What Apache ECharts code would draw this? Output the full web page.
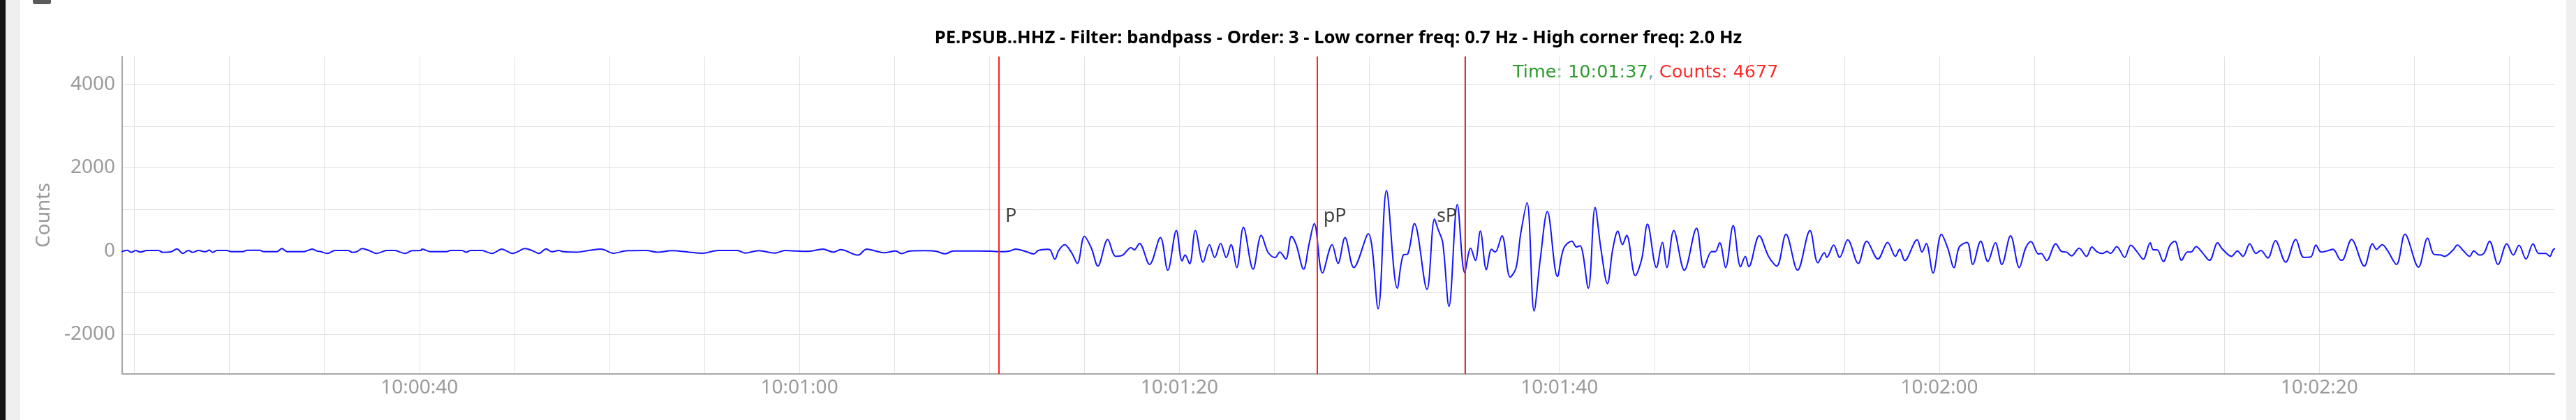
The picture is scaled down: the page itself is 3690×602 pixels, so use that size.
<!DOCTYPE html>
<html>
<head>
<meta charset="utf-8">
<script src="https://cdn.jsdelivr.net/npm/echarts@6/dist/echarts.min.js"></script>
<style>
html,body{margin:0;padding:0;background:#fff;}
#chart{width:3690px;height:602px;}
</style>
</head>
<body>
<div id="chart"></div>
<script>
// ---- Data (seconds after 10:00:00, counts) ----
const titleText = 'PE.PSUB..HHZ - Filter: bandpass - Order: 3 - Low corner freq: 0.7 Hz - High corner freq: 2.0 Hz';
const readoutTime = 'Time: 10:01:37';
const readoutCounts = 'Counts: 4677';
const axisMinSec = 24.354;
const axisMaxSec = 152.372;
const yMin = -2960;
const yMax = 4677;

const sampleSeconds = [
24.32,24.62,24.84,25.07,25.29,25.67,26.27,26.49,26.94,27.24,27.54,27.84,28.07,28.37,28.74,28.94,29.12,29.34,29.87,30.09,
30.69,30.92,31.59,31.82,32.49,32.76,33.05,33.92,34.14,34.37,34.59,34.82,35.15,35.57,36.24,36.47,36.69,36.99,37.37,37.74,
38.04,38.27,38.72,38.94,39.24,39.62,40.07,40.14,40.59,41.42,41.64,42.24,42.47,42.69,43.29,43.52,43.82,44.04,44.34,44.57,
44.91,45.17,45.54,45.77,46.07,46.29,46.67,46.97,47.34,47.57,48.29,48.9,49.56,50.2,50.96,51.95,52.51,53.3,54.2,54.9,
55.74,56.73,57.15,57.85,58.7,59.26,59.82,60.5,61.23,61.79,62.17,63.09,63.54,64.0,64.46,65.07,65.37,65.83,66.6,67.2,
67.66,68.11,69.0,69.37,70.10,70.6,71.08,71.39,72.00,72.34,72.57,73.04,73.19,73.45,73.65,73.96,74.33,74.63,75.00,75.37,
75.71,76.23,76.65,77.02,77.45,77.63,77.90,78.43,79.00,79.39,79.84,80.14,80.30,80.54,80.84,81.25,81.58,81.86,82.17,82.47,
82.72,83.02,83.37,83.88,84.31,84.68,85.04,85.29,85.60,85.90,86.15,86.54,86.82,87.10,87.53,88.04,88.35,88.72,89.18,89.94,
90.46,90.90,91.47,91.78,92.02,92.37,93.03,93.43,93.62,93.86,94.19,94.63,95.02,95.33,95.58,95.84,96.16,96.43,96.62,96.98,
97.41,97.72,97.96,98.30,98.67,99.00,99.37,99.90,100.23,100.66,100.90,101.09,101.52,101.88,102.19,102.53,102.81,103.08,103.32,103.54,
104.00,104.34,104.64,105.11,105.42,105.66,106.02,106.58,107.22,107.61,108.01,108.20,108.44,108.75,109.15,109.54,109.79,109.97,110.52,111.01,
111.44,111.93,112.54,113.19,113.61,113.95,114.08,114.44,114.75,115.18,115.73,116.18,116.77,117.28,117.69,117.91,118.18,118.83,119.09,119.31,
119.67,120.11,120.44,120.77,121.05,121.46,121.76,122.18,122.55,122.95,123.29,123.75,124.21,124.54,124.82,125.22,125.36,125.65,126.13,126.44,
126.69,126.96,127.36,127.75,128.03,128.28,128.58,128.83,129.01,129.34,129.75,130.08,130.42,130.73,131.10,131.26,131.46,131.79,132.14,132.40,
132.75,133.06,133.24,133.52,133.85,134.22,134.65,134.89,135.38,135.69,135.98,136.34,136.67,136.92,137.29,137.69,138.23,138.76,139.18,139.55,
139.82,140.10,140.41,140.72,141.14,141.29,141.70,142.37,142.80,143.01,143.31,143.59,144.06,144.51,145.22,145.70,146.04,146.41,146.59,147.02,
147.27,147.57,147.91,148.13,148.43,148.68,148.96,149.41,149.87,150.21,150.51,150.88,151.25,151.55,151.92,152.13,152.31,152.45
];
const sampleCounts = [
-20,15,-35,10,-28,10,10,-35,-20,50,-60,10,-35,10,-20,20,-35,10,10,-20,
-20,15,15,-20,-20,55,-20,-20,15,45,0,-20,-60,10,10,-35,-20,55,5,-60,
-20,10,10,-20,-60,5,10,45,-20,-20,10,10,-35,10,10,-20,-60,-20,45,0,
-60,-20,55,35,-20,-60,50,-20,10,-20,-30,10,45,-55,5,10,-30,5,-30,-55,
10,10,-50,5,-50,10,0,-10,45,-30,30,-100,45,0,-45,0,-65,0,5,-10,
-70,0,0,0,-5,-20,0,45,-28,-73,10,40,28,-200,10,150,-45,-300,350,65,
-365,275,-130,-100,80,28,180,-325,320,-465,490,-240,-100,-310,490,-270,150,-160,180,-160,
150,-400,570,-440,375,-45,-160,-28,-195,350,150,-440,150,655,-530,150,-300,320,-400,415,
-1390,1455,-895,-100,-75,655,-925,765,515,205,-1335,1120,-520,65,-230,475,-450,40,-28,365,
-630,-410,400,1160,-1445,-185,950,-615,65,235,95,125,-895,1045,40,-785,40,475,150,375,
-595,-185,645,-400,205,-400,490,-465,545,-400,-20,-20,195,-400,610,-380,-130,-380,365,-130,
-365,400,-465,490,-285,-45,-155,140,-155,265,-300,235,-195,205,-130,40,-230,265,-28,180,
-530,400,70,-400,95,205,-325,235,-255,195,-325,365,-400,65,225,-75,-60,-230,170,-15,
-28,-120,65,-130,95,-15,-60,-15,-60,105,-155,135,-28,-200,195,28,28,-255,135,235,
-225,-28,-28,105,-45,-225,195,50,-130,0,-130,170,-60,10,-170,245,-270,275,-155,-145,
140,-28,0,40,-225,-185,275,-365,170,40,150,10,-325,400,-390,310,-85,-100,-130,10,
140,10,-130,0,-100,-45,235,-325,170,-100,135,-195,170,-60,-60,-130,28,60
];

// Seismic phase picks
const phaseNames = ['P', 'pP', 'sP'];
const phaseSeconds = [70.49, 87.25, 95.03];
const phaseLabelSeconds = [70.84, 87.58, 93.54];
const phaseLabelCounts = [831, 831, 831];

// ---- Helpers ----
const base = new Date(2020, 0, 1, 10, 0, 0, 0).getTime();
const toTime = s => base + Math.round(s * 1000);
function pad(n) { return (n < 10 ? '0' : '') + n; }

const lineData = sampleSeconds.map((s, i) => [toTime(s), sampleCounts[i]]);
const markData = phaseSeconds.map(s => ({ xAxis: toTime(s) }));
const labelData = phaseNames.map((n, i) => ({ value: [toTime(phaseLabelSeconds[i]), phaseLabelCounts[i]], name: n }));

const FONT = 'Noto Sans';
const chart = echarts.init(document.getElementById('chart'), null, { renderer: 'canvas' });
chart.setOption({
  animation: false,
  backgroundColor: '#ffffff',
  grid: { left: 175, right: 31, top: 81, bottom: 66, containLabel: false },
  xAxis: {
    type: 'time',
    min: toTime(axisMinSec),
    max: toTime(axisMaxSec),
    minInterval: 10000,
    maxInterval: 10000,
    splitNumber: 13,
    axisLine: { show: true, onZero: false, lineStyle: { color: '#a8a8a8', width: 2 } },
    axisTick: { show: false },
    splitLine: { show: true, showMinLine: false, showMaxLine: false, lineStyle: { color: '#e2e2e2', width: 1 } },
    axisLabel: {
      color: '#9a9a9a', fontFamily: FONT, fontSize: 28, margin: 6,
      showMinLabel: false, showMaxLabel: false,
      hideOverlap: false,
      formatter: function (v) {
        const d = new Date(v);
        if (d.getMilliseconds() !== 0 || d.getSeconds() % 20 !== 0) return '';
        return pad(d.getHours()) + ':' + pad(d.getMinutes()) + ':' + pad(d.getSeconds());
      }
    }
  },
  yAxis: {
    type: 'value',
    min: yMin,
    max: yMax,
    splitNumber: 8,
    minInterval: 1000,
    maxInterval: 1000,
    name: 'Counts',
    nameLocation: 'middle',
    nameGap: 98,
    nameTextStyle: { color: '#9a9a9a', fontFamily: FONT, fontSize: 28 },
    axisLine: { show: true, onZero: false, lineStyle: { color: '#a8a8a8', width: 2 } },
    axisTick: { show: false },
    splitLine: { show: true, showMinLine: false, showMaxLine: false, lineStyle: { color: '#e2e2e2', width: 1 } },
    axisLabel: {
      color: '#9a9a9a', fontFamily: FONT, fontSize: 28, margin: 10,
      showMinLabel: false, showMaxLabel: false,
      formatter: function (v) { return (v % 2000 === 0) ? String(v) : ''; }
    }
  },
  series: [
    {
      type: 'line',
      data: lineData,
      showSymbol: false,
      symbol: 'none',
      smooth: 0.35,
      lineStyle: { color: '#1414ff', width: 2 },
      markLine: {
        silent: true,
        symbol: ['none', 'none'],
        label: { show: false },
        lineStyle: { color: '#ff1f1f', width: 2, type: 'solid' },
        data: markData
      }
    },
    {
      type: 'scatter',
      data: labelData,
      symbolSize: 0,
      silent: true,
      label: {
        show: true,
        position: [0, 0],
        align: 'left',
        verticalAlign: 'middle',
        formatter: p => p.name,
        color: '#111',
        fontFamily: FONT,
        fontSize: 27
      }
    }
  ],
  graphic: [
    { type: 'rect', shape: { x: 0, y: 0, width: 8, height: 602 }, style: { fill: '#141414' }, silent: true },
    { type: 'rect', shape: { x: 8, y: 0, width: 21, height: 602 }, style: { fill: '#efefef' }, silent: true },
    { type: 'rect', shape: { x: 3676, y: 0, width: 14, height: 602 }, style: { fill: '#efefef' }, silent: true },
    { type: 'rect', shape: { x: 47, y: -4, width: 26, height: 10, r: 3 }, style: { fill: '#5a5a5a' }, silent: true },
    {
      type: 'text', x: 1917, y: 55, silent: true,
      style: { text: titleText, fill: '#000', font: 'bold 25.7px "Noto Sans"', align: 'center', verticalAlign: 'middle' }
    },
    {
      type: 'text', x: 2167, y: 104, silent: true,
      style: {
        text: '{g|' + readoutTime + '}{c|, }{r|' + readoutCounts + '}',
        align: 'left', verticalAlign: 'middle',
        rich: {
          g: { fill: '#2e9a2e', font: '25.5px "DejaVu Sans"' },
          c: { fill: '#7a8fb0', font: '25.5px "DejaVu Sans"' },
          r: { fill: '#ff2a2a', font: '25.5px "DejaVu Sans"' }
        }
      }
    }
  ]
});
</script>
</body>
</html>
